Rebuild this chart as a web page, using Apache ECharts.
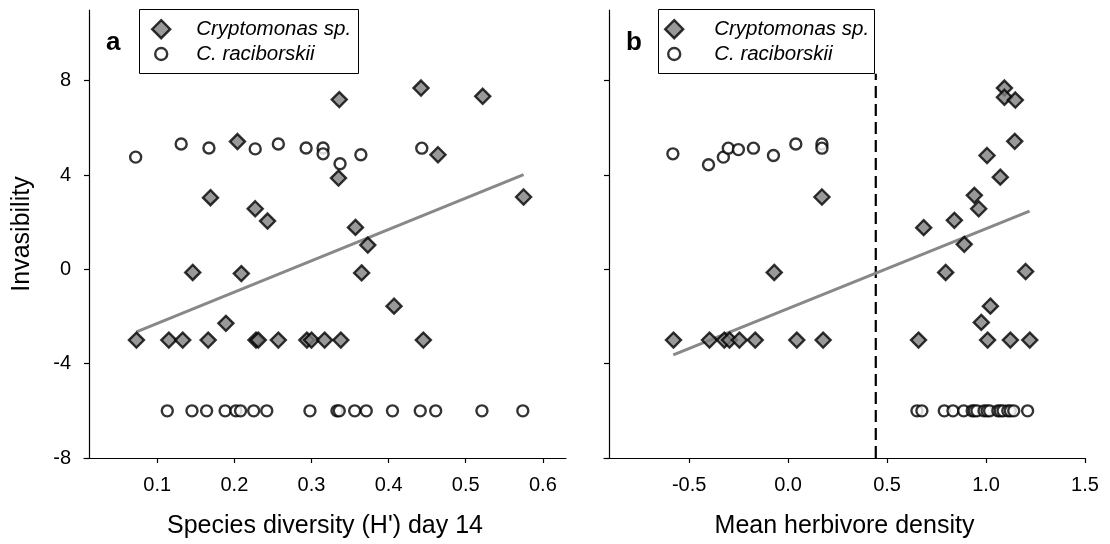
<!DOCTYPE html>
<html>
<head>
<meta charset="utf-8">
<script src="https://cdn.jsdelivr.net/npm/echarts@6/dist/echarts.min.js"></script>
<style>
  html, body { margin: 0; padding: 0; background: #fff; }
  #chart { width: 1110px; height: 544px; }
</style>
</head>
<body>
<div id="chart"></div>
<script>
// Panel a: invasibility against species diversity (H') on day 14
const cryptoDiversity = [
  [0.073, -3.0], [0.115, -3.0], [0.133, -3.0], [0.166, -3.0], [0.228, -3.0], [0.231, -3.0],
  [0.257, -3.0], [0.294, -3.0], [0.300, -3.0], [0.317, -3.0], [0.338, -3.0], [0.445, -3.0],
  [0.146, -0.13], [0.209, -0.18], [0.365, -0.15], [0.189, -2.29], [0.407, -1.56],
  [0.169, 3.04], [0.227, 2.57], [0.243, 2.05], [0.335, 3.87], [0.357, 1.78], [0.373, 1.03],
  [0.575, 3.07], [0.204, 5.42], [0.336, 7.20], [0.442, 7.69], [0.522, 7.34], [0.464, 4.86]
];
const raciDiversity = [
  [0.072, 4.76], [0.131, 5.32], [0.167, 5.15], [0.227, 5.11], [0.257, 5.32], [0.293, 5.15],
  [0.315, 5.15], [0.315, 4.90], [0.337, 4.48], [0.364, 4.86], [0.443, 5.14],
  [0.113, -6.0], [0.145, -6.0], [0.164, -6.0], [0.188, -6.0], [0.202, -6.0], [0.208, -6.0],
  [0.225, -6.0], [0.242, -6.0], [0.298, -6.0], [0.333, -6.0], [0.336, -6.0], [0.356, -6.0],
  [0.371, -6.0], [0.405, -6.0], [0.441, -6.0], [0.461, -6.0], [0.521, -6.0], [0.574, -6.0]
];
const fitDiversity = [[0.073, -2.65], [0.575, 4.02]];

// Panel b: invasibility against mean herbivore density
const cryptoHerbivore = [
  [-0.579, -3.0], [-0.397, -3.0], [-0.322, -3.0], [-0.296, -3.0], [-0.246, -3.0], [-0.166, -3.0],
  [0.044, -3.0], [0.177, -3.0], [0.659, -3.0], [1.008, -3.0], [1.123, -3.0], [1.221, -3.0],
  [-0.070, -0.13], [0.796, -0.13], [1.200, -0.09], [1.022, -1.56], [0.976, -2.25],
  [0.171, 3.07], [1.093, 7.69], [1.093, 7.30], [1.148, 7.18], [1.145, 5.43], [1.005, 4.83],
  [1.072, 3.91], [0.941, 3.14], [0.963, 2.57], [0.840, 2.08], [0.685, 1.77], [0.890, 1.06]
];
const raciHerbivore = [
  [-0.582, 4.90], [-0.402, 4.44], [-0.327, 4.76], [-0.302, 5.14], [-0.251, 5.08], [-0.175, 5.14],
  [-0.074, 4.83], [0.039, 5.32], [0.171, 5.32], [0.171, 5.14],
  [0.651, -6.0], [0.676, -6.0], [0.789, -6.0], [0.833, -6.0], [0.887, -6.0], [0.930, -6.0],
  [0.941, -6.0], [0.954, -6.0], [0.990, -6.0], [1.005, -6.0], [1.018, -6.0], [1.060, -6.0],
  [1.072, -6.0], [1.086, -6.0], [1.110, -6.0], [1.123, -6.0], [1.140, -6.0], [1.210, -6.0]
];
const fitHerbivore = [[-0.58, -3.63], [1.22, 2.47]];
const thresholdHerbivore = [[0.443, -8], [0.443, 8.3]];

// Tick values
const yTicks = [-8, -4, 0, 4, 8];
const xTicksDiversity = [0.1, 0.2, 0.3, 0.4, 0.5, 0.6];
const xTicksHerbivore = [-0.5, 0.0, 0.5, 1.0, 1.5];

const NAME_CRYPTO = 'Cryptomonas sp.';
const NAME_RACI = 'C. raciborskii';
const FONT = '"Liberation Sans", Arial, sans-serif';

const axisLineStyle = { show: true, onZero: false, lineStyle: { color: '#000', width: 1.2 } };
const tickStyle = { show: true, inside: false, length: 5, lineStyle: { color: '#000', width: 1.2 } };

function xAxisFor(grid, min, max, ticks, name) {
  return {
    type: 'value', gridIndex: grid, min: min, max: max,
    axisLine: axisLineStyle,
    axisTick: Object.assign({ customValues: ticks }, tickStyle),
    axisLabel: { customValues: ticks, color: '#000', fontFamily: FONT, fontSize: 20, margin: 17,
                 formatter: v => Number(v).toFixed(1) },
    splitLine: { show: false },
    name: name, nameLocation: 'middle', nameGap: 56,
    nameTextStyle: { color: '#000', fontFamily: FONT, fontSize: 25 }
  };
}
function yAxisFor(grid, showLabels, name) {
  return {
    type: 'value', gridIndex: grid, min: -8, max: 11, offset: -5,
    axisLine: axisLineStyle,
    axisTick: Object.assign({ customValues: yTicks }, tickStyle),
    axisLabel: { show: showLabels, customValues: yTicks, color: '#000', fontFamily: FONT, fontSize: 20, margin: 18 },
    splitLine: { show: false },
    name: name, nameLocation: 'middle', nameGap: 54,
    nameTextStyle: { color: '#000', fontFamily: FONT, fontSize: 25 }
  };
}

const diamondStyle = { color: '#808080', borderColor: '#000', borderWidth: 2.4 };
const circleStyle = { color: '#fff', borderColor: '#000', borderWidth: 2.4 };

function scatter(name, data, grid, isDiamond) {
  return {
    type: 'scatter', name: name, xAxisIndex: grid, yAxisIndex: grid, data: data,
    symbol: isDiamond ? 'diamond' : 'circle', symbolSize: isDiamond ? 15 : 11,
    itemStyle: isDiamond ? diamondStyle : circleStyle,
    emphasis: { disabled: true }, z: 3
  };
}
function line(name, data, grid, style) {
  return {
    type: 'line', name: name, xAxisIndex: grid, yAxisIndex: grid, data: data,
    showSymbol: false, symbol: 'none', lineStyle: style, silent: true, z: 2
  };
}
function legendItem(name, left, top, size, textPad, isDiamond) {
  return {
    data: [name], left: left, top: top, orient: 'vertical', padding: 0,
    itemWidth: size, itemHeight: size, selectedMode: false, z: 6,
    itemStyle: Object.assign({}, isDiamond ? diamondStyle : circleStyle),
    textStyle: { color: '#000', fontFamily: FONT, fontSize: 20.5, fontStyle: 'italic',
                 lineHeight: 20, padding: [0, 0, 0, textPad] }
  };
}

const chart = echarts.init(document.getElementById('chart'), null, { renderer: 'canvas' });
chart.setOption({
  animation: false,
  backgroundColor: '#fff',
  title: [
    { text: 'a', left: 106, top: 30, padding: 0,
      textStyle: { fontFamily: FONT, fontSize: 26, fontWeight: 'bold', color: '#000' } },
    { text: 'b', left: 626, top: 30, padding: 0,
      textStyle: { fontFamily: FONT, fontSize: 26, fontWeight: 'bold', color: '#000' } }
  ],
  grid: [
    { left: 84, top: 10, width: 482, height: 448 },
    { left: 604, top: 10, width: 481, height: 448 }
  ],
  xAxis: [
    xAxisFor(0, 0.005, 0.63, xTicksDiversity, "Species diversity (H') day 14"),
    xAxisFor(1, -0.93, 1.5, xTicksHerbivore, 'Mean herbivore density')
  ],
  yAxis: [
    yAxisFor(0, true, 'Invasibility'),
    yAxisFor(1, false, '')
  ],
  graphic: [
    { type: 'rect', z: 5, shape: { x: 139.5, y: 9.5, width: 219, height: 64 },
      style: { fill: '#fff', stroke: '#000', lineWidth: 1 } },
    { type: 'rect', z: 5, shape: { x: 658.5, y: 9.5, width: 216, height: 64 },
      style: { fill: '#fff', stroke: '#000', lineWidth: 1 } }
  ],
  legend: [
    legendItem(NAME_CRYPTO, 151, 19, 18, 21, true),
    legendItem(NAME_RACI, 154, 44, 12, 24, false),
    legendItem(NAME_CRYPTO, 664, 19, 18, 26, true),
    legendItem(NAME_RACI, 667, 44, 12, 29, false)
  ],
  series: [
    line('fit a', fitDiversity, 0, { color: '#888', width: 3 }),
    scatter(NAME_CRYPTO, cryptoDiversity, 0, true),
    scatter(NAME_RACI, raciDiversity, 0, false),
    line('threshold b', thresholdHerbivore, 1, { color: '#000', width: 2.2, type: [12, 6] }),
    line('fit b', fitHerbivore, 1, { color: '#888', width: 3 }),
    scatter(NAME_CRYPTO, cryptoHerbivore, 1, true),
    scatter(NAME_RACI, raciHerbivore, 1, false)
  ]
});
</script>
</body>
</html>
